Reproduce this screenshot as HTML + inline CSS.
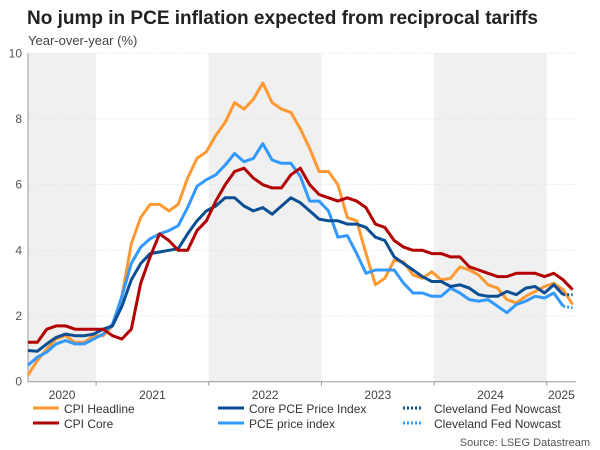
<!DOCTYPE html>
<html><head><meta charset="utf-8"><style>
body{margin:0;background:#fff;font-family:"Liberation Sans",Arial,sans-serif;}
#wrap{position:relative;width:600px;height:450px;overflow:hidden;}
</style></head><body>
<div id="wrap">
<svg id="svg" width="600" height="450" xmlns="http://www.w3.org/2000/svg" font-family="Liberation Sans, Arial, sans-serif">
<text x="27" y="24" font-size="19" font-weight="bold" fill="#222">No jump in PCE inflation expected from reciprocal tariffs</text>
<text x="28" y="45" font-size="13" fill="#444">Year-over-year (%)</text>
<g id="bands"></g><g id="grid"></g><g id="axes"></g><g id="series"></g><g id="legend"></g>
<text x="590" y="446" font-size="11" fill="#555" text-anchor="end">Source: LSEG Datastream</text>
</svg>
</div>
<script>
const yTicks=[0,2,4,6,8,10];
const years=["2020","2021","2022","2023","2024","2025"];
const cpiHeadline=[0.2,0.65,1.0,1.3,1.4,1.2,1.2,1.4,1.4,1.7,2.6,4.2,5.0,5.4,5.4,5.2,5.4,6.2,6.8,7.0,7.5,7.9,8.5,8.3,8.6,9.1,8.5,8.3,8.2,7.7,7.1,6.4,6.4,6.0,5.0,4.9,3.9,2.95,3.15,3.7,3.65,3.25,3.15,3.35,3.1,3.15,3.5,3.4,3.25,2.95,2.85,2.5,2.4,2.6,2.75,2.9,3.0,2.8,2.35];
const cpiCore=[1.2,1.2,1.6,1.7,1.7,1.6,1.6,1.6,1.6,1.4,1.3,1.6,3.0,3.8,4.5,4.3,4.0,4.0,4.6,4.9,5.5,6.0,6.4,6.5,6.2,6.0,5.9,5.9,6.3,6.5,6.0,5.7,5.6,5.5,5.6,5.5,5.3,4.8,4.7,4.3,4.1,4.0,4.0,3.9,3.9,3.8,3.8,3.5,3.4,3.3,3.2,3.2,3.3,3.3,3.3,3.2,3.3,3.1,2.8];
const corePce=[0.95,0.93,1.15,1.35,1.45,1.4,1.4,1.45,1.6,1.7,2.3,3.1,3.6,3.9,3.95,4.0,4.05,4.5,4.9,5.2,5.35,5.6,5.6,5.35,5.2,5.3,5.1,5.35,5.6,5.45,5.2,4.95,4.9,4.9,4.8,4.8,4.7,4.4,4.3,3.8,3.6,3.4,3.2,3.05,3.05,2.9,2.95,2.85,2.65,2.6,2.6,2.75,2.65,2.85,2.9,2.7,2.95,2.65];
const pce=[0.5,0.75,0.9,1.15,1.25,1.15,1.15,1.3,1.45,1.75,2.6,3.6,4.1,4.35,4.5,4.6,4.75,5.3,5.95,6.15,6.3,6.6,6.95,6.7,6.8,7.25,6.75,6.65,6.65,6.25,5.5,5.5,5.2,4.4,4.45,3.9,3.3,3.4,3.4,3.4,3.0,2.7,2.7,2.6,2.6,2.85,2.7,2.5,2.45,2.5,2.3,2.1,2.35,2.45,2.6,2.55,2.7,2.3];
const nowcastCore=[2.65,2.65];
const nowcastPce=[2.3,2.25];
const nowcastStart=57;

const X0=28,STEP=9.39,Y0=381.7,YS=32.84;
const sx=i=>X0+i*STEP, sy=v=>Y0-v*YS;
const yearStartIdx=-4.75;
const NS="http://www.w3.org/2000/svg";
function mk(tag,attrs,parent){const e=document.createElementNS(NS,tag);for(const k in attrs)e.setAttribute(k,attrs[k]);parent.appendChild(e);return e;}
const bands=document.getElementById('bands'),grid=document.getElementById('grid'),axes=document.getElementById('axes'),ser=document.getElementById('series'),leg=document.getElementById('legend');
const xRight=576;
years.forEach((y,k)=>{
  const a=Math.max(X0,sx(yearStartIdx+12*k)),b=Math.min(xRight,sx(yearStartIdx+12*(k+1)));
  if(k%2===0){const r=mk('rect',{x:a,y:sy(10),width:b-a,height:sy(0)-sy(10),fill:'#f0f0f0'},bands);
  
  }
  const t=mk('text',{x:(a+b)/2,y:399,'font-size':12,fill:'#444','text-anchor':'middle'},axes);t.textContent=y;
  
  
  if(k>0){mk('line',{x1:a,x2:a,y1:sy(0),y2:sy(0)+4,stroke:'#999'},axes);}
});
yTicks.forEach(v=>{
  if(v>0){const g=mk('line',{x1:X0,x2:xRight,y1:sy(v),y2:sy(v),stroke:'#ddd','stroke-dasharray':'1,2'},grid);
  
  }
  const t=mk('text',{x:X0-6,y:sy(v)+4,'font-size':12,fill:'#555','text-anchor':'end'},axes);t.textContent=v;
  
  
});
mk('line',{x1:X0,x2:X0,y1:sy(10),y2:sy(0),stroke:'#999'},axes);
mk('line',{x1:X0,x2:xRight,y1:sy(0),y2:sy(0),stroke:'#999'},axes);
function line(data,color,name,start,dash){
  const pts=data.map((v,i)=>sx(i+start).toFixed(1)+','+sy(v).toFixed(1)).join(' ');
  const p=mk('polyline',{points:pts,fill:'none',stroke:color,'stroke-width':3,'stroke-linejoin':'round'},ser);
  if(dash)p.setAttribute('stroke-dasharray','2,2');
  
  
}
line(cpiHeadline,'#ff9933','cpi-headline-line',0);
line(pce,'#3399ff','pce-line',0);
line(corePce,'#0a4f94','core-pce-line',0);
line(cpiCore,'#b30000','cpi-core-line',0);
line(nowcastCore,'#0a4f94','nowcast-core-pce-line',nowcastStart,true);
line(nowcastPce,'#3399ff','nowcast-pce-line',nowcastStart,true);
const items=[["CPI Headline","#ff9933",33,412,false],["CPI Core","#b30000",33,427,false],["Core PCE Price Index","#0a4f94",218,412,false],["PCE price index","#3399ff",218,427,false],["Cleveland Fed Nowcast","#0a4f94",403,412,true],["Cleveland Fed Nowcast","#3399ff",403,427,true]];
items.forEach((it,k)=>{
  const g=mk('g',{},leg);
  
  
  const l=mk('line',{x1:it[2],x2:it[4]?it[2]+20:it[2]+26,y1:it[3]-4,y2:it[3]-4,stroke:it[1],'stroke-width':3},g);
  if(it[4])l.setAttribute('stroke-dasharray','2,2');
  const t=mk('text',{x:it[2]+31,y:it[3]+1,'font-size':12,fill:'#333'},g);t.textContent=it[0];
});
</script>
</body></html>
